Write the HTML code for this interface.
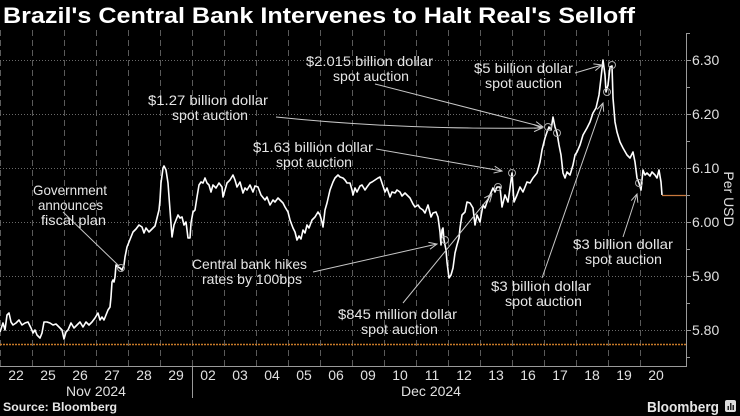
<!DOCTYPE html>
<html>
<head>
<meta charset="utf-8">
<style>
html,body{margin:0;padding:0;background:#000;}
svg{display:block;}
text{font-family:"Liberation Sans",sans-serif;}
</style>
</head>
<body>
<svg width="740" height="416" viewBox="0 0 740 416" xmlns="http://www.w3.org/2000/svg">
<defs>
<marker id="ah" markerWidth="10" markerHeight="10" refX="9" refY="5" orient="auto" markerUnits="userSpaceOnUse">
<polyline points="1,1.5 9,5 1,8.5" fill="none" stroke="#c8c8c8" stroke-width="1"/>
</marker>
</defs>
<rect width="740" height="416" fill="#000"/>

<!-- Title -->
<text x="3" y="23" font-size="22" font-weight="bold" fill="#fff" textLength="632" lengthAdjust="spacingAndGlyphs">Brazil's Central Bank Intervenes to Halt Real's Selloff</text>

<!-- vertical dashed gridlines -->
<g stroke="#5a5a5a" stroke-width="1" stroke-dasharray="6 4">
<line x1="0.5" y1="30" x2="0.5" y2="366"/>
<line x1="32.5" y1="30" x2="32.5" y2="366"/>
<line x1="64.5" y1="30" x2="64.5" y2="366"/>
<line x1="96.5" y1="30" x2="96.5" y2="366"/>
<line x1="128.5" y1="30" x2="128.5" y2="366"/>
<line x1="160.5" y1="30" x2="160.5" y2="366"/>
<line x1="192.5" y1="30" x2="192.5" y2="366"/>
<line x1="224.5" y1="30" x2="224.5" y2="366"/>
<line x1="256.5" y1="30" x2="256.5" y2="366"/>
<line x1="288.5" y1="30" x2="288.5" y2="366"/>
<line x1="320.5" y1="30" x2="320.5" y2="366"/>
<line x1="352.5" y1="30" x2="352.5" y2="366"/>
<line x1="384.5" y1="30" x2="384.5" y2="366"/>
<line x1="416.5" y1="30" x2="416.5" y2="366"/>
<line x1="448.5" y1="30" x2="448.5" y2="366"/>
<line x1="480.5" y1="30" x2="480.5" y2="366"/>
<line x1="512.5" y1="30" x2="512.5" y2="366"/>
<line x1="544.5" y1="30" x2="544.5" y2="366"/>
<line x1="576.5" y1="30" x2="576.5" y2="366"/>
<line x1="608.5" y1="30" x2="608.5" y2="366"/>
<line x1="640.5" y1="30" x2="640.5" y2="366"/>
</g>

<!-- horizontal dotted gridlines -->
<g stroke="#6a6a6a" stroke-width="1" stroke-dasharray="1 2">
<line x1="0" y1="60.5" x2="686" y2="60.5"/>
<line x1="0" y1="114.5" x2="686" y2="114.5"/>
<line x1="0" y1="168.5" x2="686" y2="168.5"/>
<line x1="0" y1="222.5" x2="686" y2="222.5"/>
<line x1="0" y1="276.5" x2="686" y2="276.5"/>
<line x1="0" y1="330.5" x2="686" y2="330.5"/>
</g>

<!-- orange dotted line -->
<line x1="0" y1="344.5" x2="686" y2="344.5" stroke="#c87a28" stroke-width="1.5" stroke-dasharray="2 1"/>

<!-- axes -->
<g stroke="#9a9a9a" stroke-width="1">
<line x1="686.5" y1="33" x2="686.5" y2="367"/>
<line x1="0" y1="366.5" x2="687" y2="366.5"/>
<line x1="686" y1="33.5" x2="690" y2="33.5"/>
<line x1="686" y1="60.5" x2="691" y2="60.5"/>
<line x1="686" y1="87.5" x2="690" y2="87.5"/>
<line x1="686" y1="114.5" x2="691" y2="114.5"/>
<line x1="686" y1="141.5" x2="690" y2="141.5"/>
<line x1="686" y1="168.5" x2="691" y2="168.5"/>
<line x1="686" y1="195.5" x2="690" y2="195.5"/>
<line x1="686" y1="222.5" x2="691" y2="222.5"/>
<line x1="686" y1="249.5" x2="690" y2="249.5"/>
<line x1="686" y1="276.5" x2="691" y2="276.5"/>
<line x1="686" y1="303.5" x2="690" y2="303.5"/>
<line x1="686" y1="330.5" x2="691" y2="330.5"/>
<line x1="686" y1="357.5" x2="690" y2="357.5"/>
<line x1="192.5" y1="366" x2="192.5" y2="398"/>
</g>

<!-- y labels -->
<g font-size="14" fill="#e0e0e0">
<text x="692" y="65">6.30</text>
<text x="692" y="119">6.20</text>
<text x="692" y="173">6.10</text>
<text x="692" y="227">6.00</text>
<text x="692" y="281">5.90</text>
<text x="692" y="335">5.80</text>
</g>
<text x="0" y="0" font-size="14" fill="#e0e0e0" text-anchor="middle" transform="translate(724,199) rotate(90)">Per USD</text>

<!-- x labels -->
<g font-size="14" fill="#e0e0e0" text-anchor="middle">
<text x="16" y="380">22</text>
<text x="48" y="380">25</text>
<text x="80" y="380">26</text>
<text x="112" y="380">27</text>
<text x="144" y="380">28</text>
<text x="176" y="380">29</text>
<text x="208" y="380">02</text>
<text x="240" y="380">03</text>
<text x="272" y="380">04</text>
<text x="304" y="380">05</text>
<text x="336" y="380">06</text>
<text x="368" y="380">09</text>
<text x="400" y="380">10</text>
<text x="432" y="380">11</text>
<text x="464" y="380">12</text>
<text x="496" y="380">13</text>
<text x="528" y="380">16</text>
<text x="560" y="380">17</text>
<text x="592" y="380">18</text>
<text x="624" y="380">19</text>
<text x="656" y="380">20</text>
<text x="96" y="396">Nov 2024</text>
<text x="431" y="396">Dec 2024</text>
</g>

<!-- series -->
<polyline fill="none" stroke="#fff" stroke-width="1.6" stroke-linejoin="round" points="0,332 2,326 3,323 5,330 7,315 9,313 11,322 13,325 16,323 19,320 22,325 25,323 28,322 31,328 33,333 35,330 37,335 40,338 42,333 44,322 47,322 50,323 53,325 56,324 59,327 62,330 64,339 66,332 68,330 71,323 74,328 77,325 80,322 83,327 86,322 89,325 92,322 95,318 98,313 100,320 102,317 104,320 106,315 108,310 110,307 111,297 112,282 113,280 114,282 115,277 116,265 118,267 120,268 122,270 124,265 125,257 127,247 129,242 131,237 133,232 136,229 139,225 142,227 144,233 146,228 149,232 152,229 155,226 157,218 159,210 160,200 161,183 163,168 164,166 166,170 168,183 170,210 172,237 174,225 176,220 178,215 180,218 182,217 184,225 186,222 188,238 190,238 191,223 193,212 195,210 197,197 199,185 201,182 203,183 205,178 207,183 209,185 211,192 213,185 216,188 219,183 222,187 223,197 225,190 227,183 230,180 233,175 235,180 237,187 240,182 243,193 245,188 247,190 250,185 253,192 255,186 258,187 261,195 265,200 267,197 270,205 273,200 275,202 278,198 280,200 283,203 285,207 288,212 290,220 293,228 295,232 297,240 299,236 301,239 303,230 305,233 307,225 309,228 312,220 315,217 318,212 320,215 322,222 323,227 325,210 327,203 330,190 333,182 335,178 338,175 340,177 343,178 345,180 347,183 350,183 352,190 353,195 355,188 357,192 360,186 362,185 365,190 367,187 370,183 372,182 375,180 378,178 380,177 382,183 385,192 387,188 390,197 392,192 395,193 397,190 400,192 402,196 405,193 408,196 410,198 413,204 415,207 418,205 420,208 423,210 425,213 428,205 431,217 433,213 436,212 438,217 440,232 441,245 442,230 443,228 444,240 446,250 447,262 449,278 451,275 453,268 455,253 457,245 459,238 460,228 462,215 465,212 467,202 470,203 473,208 475,225 477,215 480,222 483,205 485,208 487,202 490,195 493,188 495,192 497,187 500,187 502,207 505,195 508,202 510,188 512,173 514,202 517,195 520,187 523,192 527,182 530,183 533,178 537,173 540,162 542,150 545,138 547,132 549,127 551,130 553,117 555,127 557,133 559,145 561,155 563,173 565,178 567,172 570,175 573,165 575,155 577,152 580,145 583,135 587,128 590,122 593,113 596,108 599,95 601,78 603,60 605,75 606,92 608,85 610,67 612,66 613,98 615,122 617,132 620,142 623,148 627,155 630,158 633,152 635,162 637,178 639,183 641,190 643,170 645,175 647,173 650,176 652,172 655,175 657,178 659,170 661,182 662,195"/>
<line x1="662" y1="195.5" x2="686" y2="195.5" stroke="#c8783c" stroke-width="1.2"/>

<!-- circles -->
<g fill="none" stroke="#aaa" stroke-width="1">
<circle cx="121" cy="268" r="3.5"/>
<circle cx="445" cy="240" r="3.5"/>
<circle cx="498" cy="187" r="3.5"/>
<circle cx="512" cy="173" r="3.5"/>
<circle cx="548" cy="127" r="3.5"/>
<circle cx="557" cy="133" r="3.5"/>
<circle cx="607" cy="92" r="3.5"/>
<circle cx="612" cy="65" r="3.5"/>
<circle cx="639" cy="183" r="3.5"/>
</g>

<!-- annotation lines -->
<g fill="none" stroke="#c8c8c8" stroke-width="1">
<path d="M375,84 L543,127" marker-end="url(#ah)"/>
<path d="M276,117 Q400,130 542,128" marker-end="url(#ah)"/>
<path d="M376,149 L502,171" marker-end="url(#ah)"/>
<path d="M313,272 L437,244" marker-end="url(#ah)"/>
<path d="M63,212 L119,266"/>
<path d="M403,303 L492,194" marker-end="url(#ah)"/>
<path d="M542,278 L603,103" marker-end="url(#ah)"/>
<path d="M575,73 L602,65" marker-end="url(#ah)"/>
<path d="M623,237 L637,194" marker-end="url(#ah)"/>
</g>

<!-- annotation text -->
<g font-size="14" fill="#e6e6e6">
<text x="306" y="66" textLength="127" lengthAdjust="spacingAndGlyphs">$2.015 billion dollar</text>
<text x="333" y="81" textLength="76" lengthAdjust="spacingAndGlyphs">spot auction</text>
<text x="148" y="105" textLength="120" lengthAdjust="spacingAndGlyphs">$1.27 billion dollar</text>
<text x="172" y="120" textLength="76" lengthAdjust="spacingAndGlyphs">spot auction</text>
<text x="253" y="152" textLength="120" lengthAdjust="spacingAndGlyphs">$1.63 billion dollar</text>
<text x="276" y="167" textLength="76" lengthAdjust="spacingAndGlyphs">spot auction</text>
<text x="474" y="73" textLength="99" lengthAdjust="spacingAndGlyphs">$5 billion dollar</text>
<text x="485" y="88" textLength="77" lengthAdjust="spacingAndGlyphs">spot auction</text>
<text x="33" y="195" textLength="74" lengthAdjust="spacingAndGlyphs">Government</text>
<text x="38" y="210" textLength="65" lengthAdjust="spacingAndGlyphs">announces</text>
<text x="41" y="225" textLength="65" lengthAdjust="spacingAndGlyphs">fiscal plan</text>
<text x="192" y="269" textLength="115" lengthAdjust="spacingAndGlyphs">Central bank hikes</text>
<text x="202" y="284" textLength="100" lengthAdjust="spacingAndGlyphs">rates by 100bps</text>
<text x="338" y="319" textLength="119" lengthAdjust="spacingAndGlyphs">$845 million dollar</text>
<text x="361" y="334" textLength="77" lengthAdjust="spacingAndGlyphs">spot auction</text>
<text x="491" y="291" textLength="100" lengthAdjust="spacingAndGlyphs">$3 billion dollar</text>
<text x="505" y="306" textLength="77" lengthAdjust="spacingAndGlyphs">spot auction</text>
<text x="573" y="249" textLength="100" lengthAdjust="spacingAndGlyphs">$3 billion dollar</text>
<text x="585" y="264" textLength="77" lengthAdjust="spacingAndGlyphs">spot auction</text>
</g>

<!-- footer -->
<text x="3" y="411" font-size="12" font-weight="bold" fill="#e6e6e6" textLength="114" lengthAdjust="spacingAndGlyphs">Source: Bloomberg</text>
<text x="647" y="412" font-size="15" font-weight="bold" fill="#e6e6e6" textLength="72" lengthAdjust="spacingAndGlyphs">Bloomberg</text>
<rect x="725" y="400" width="11" height="12" rx="2" fill="#ddd"/>
<g fill="#222">
<rect x="727.5" y="406" width="1.5" height="4"/>
<rect x="730" y="403" width="1.5" height="7"/>
<rect x="732.5" y="405" width="1.5" height="5"/>
</g>
</svg>
</body>
</html>
